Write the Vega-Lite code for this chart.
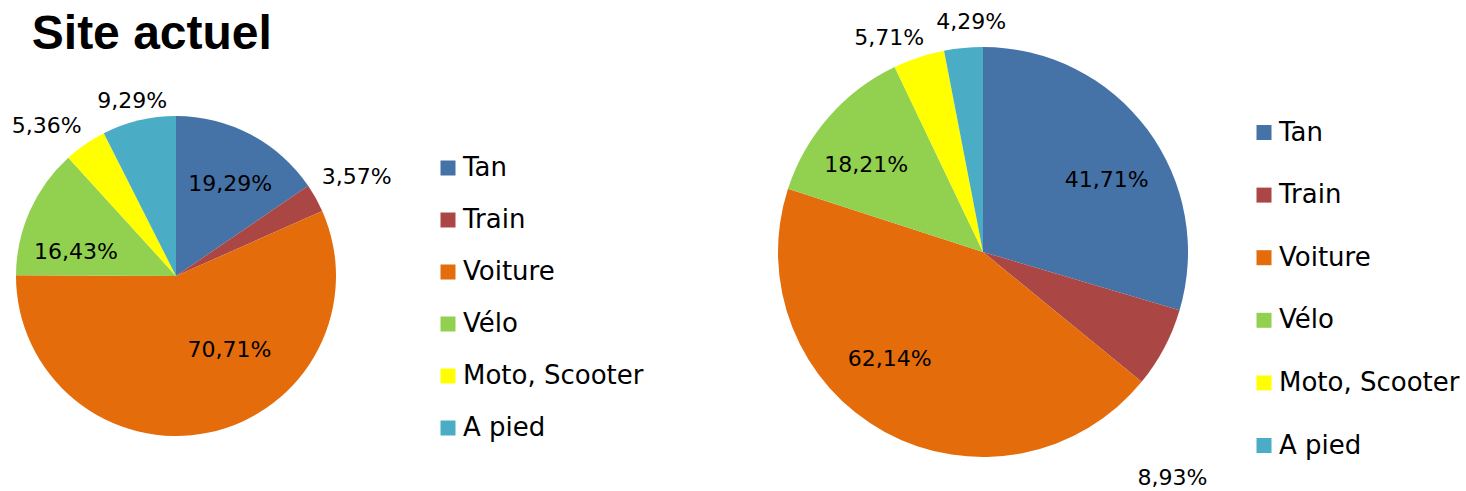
{
  "$schema": "https://vega.github.io/schema/vega-lite/v6.json",
  "background": "white",
  "padding": {"left": 11, "top": 11, "right": 0, "bottom": 0},
  "title": {"text": "Site actuel", "anchor": "start", "dx": 20, "offset": -48, "fontSize": 48, "font": "Liberation Sans", "fontWeight": "bold", "color": "black"},
  "bounds": "flush",
  "spacing": 442,
  "resolve": {"scale": {"color": "independent"}, "legend": {"color": "independent"}},
  "datasets": {
    "actuel": [
      {"mode": "Tan", "rang": 1, "pct": 19.29, "label": "19,29%"},
      {"mode": "Train", "rang": 2, "pct": 3.57, "label": "3,57%"},
      {"mode": "Voiture", "rang": 3, "pct": 70.71, "label": "70,71%"},
      {"mode": "Vélo", "rang": 4, "pct": 16.43, "label": "16,43%"},
      {"mode": "Moto, Scooter", "rang": 5, "pct": 5.36, "label": "5,36%"},
      {"mode": "A pied", "rang": 6, "pct": 9.29, "label": "9,29%"}
    ],
    "futur": [
      {"mode": "Tan", "rang": 1, "pct": 41.71, "label": "41,71%"},
      {"mode": "Train", "rang": 2, "pct": 8.93, "label": "8,93%"},
      {"mode": "Voiture", "rang": 3, "pct": 62.14, "label": "62,14%"},
      {"mode": "Vélo", "rang": 4, "pct": 18.21, "label": "18,21%"},
      {"mode": "Moto, Scooter", "rang": 5, "pct": 5.71, "label": "5,71%"},
      {"mode": "A pied", "rang": 6, "pct": 4.29, "label": "4,29%"}
    ]
  },
  "hconcat": [
    {
      "width": 320,
      "height": 436,
      "data": {"name": "actuel"},
      "encoding": {
        "theta": {"field": "pct", "type": "quantitative", "stack": true},
        "order": {"field": "rang", "type": "quantitative"}
      },
      "layer": [
        {
          "mark": {"type": "arc", "outerRadius": 160},
          "encoding": {
            "color": {
              "field": "mode", "type": "nominal",
              "scale": {"domain": ["Tan", "Train", "Voiture", "Vélo", "Moto, Scooter", "A pied"], "range": ["#4572A7", "#AA4643", "#E46C0A", "#92D050", "#FFFF00", "#4BACC6"]},
              "legend": {"title": null, "orient": "none", "legendX": 419, "legendY": 97, "symbolType": "square", "symbolSize": 225, "symbolStrokeWidth": 0, "labelFont": "DejaVu Sans", "labelFontSize": 26, "labelColor": "black", "labelOffset": 2, "rowPadding": 26, "labelLimit": 400}
            }
          }
        },
        {
          "mark": {"type": "text", "thetaOffset": 0.046, "font": "DejaVu Sans", "fontSize": 22, "color": "black"},
          "encoding": {
            "detail": {"field": "mode", "type": "nominal"},
            "radius": {"field": "pct", "type": "quantitative", "scale": {"domain": [19.28, 19.29, 19.3], "range": [0, 107, 0], "clamp": true, "zero": false}},
            "text": {"condition": {"test": "datum.rang === 1", "field": "label"}, "value": ""}
          }
        },
        {
          "mark": {"type": "text", "thetaOffset": 0.008, "font": "DejaVu Sans", "fontSize": 22, "color": "black"},
          "encoding": {
            "detail": {"field": "mode", "type": "nominal"},
            "radius": {"field": "pct", "type": "quantitative", "scale": {"domain": [3.56, 3.57, 3.58], "range": [0, 206, 0], "clamp": true, "zero": false}},
            "text": {"condition": {"test": "datum.rang === 2", "field": "label"}, "value": ""}
          }
        },
        {
          "mark": {"type": "text", "thetaOffset": -0.42, "font": "DejaVu Sans", "fontSize": 22, "color": "black"},
          "encoding": {
            "detail": {"field": "mode", "type": "nominal"},
            "radius": {"field": "pct", "type": "quantitative", "scale": {"domain": [70.7, 70.71, 70.72], "range": [0, 91, 0], "clamp": true, "zero": false}},
            "text": {"condition": {"test": "datum.rang === 3", "field": "label"}, "value": ""}
          }
        },
        {
          "mark": {"type": "text", "thetaOffset": -0.18, "font": "DejaVu Sans", "fontSize": 22, "color": "black"},
          "encoding": {
            "detail": {"field": "mode", "type": "nominal"},
            "radius": {"field": "pct", "type": "quantitative", "scale": {"domain": [16.42, 16.43, 16.44], "range": [0, 103, 0], "clamp": true, "zero": false}},
            "text": {"condition": {"test": "datum.rang === 4", "field": "label"}, "value": ""}
          }
        },
        {
          "mark": {"type": "text", "thetaOffset": -0.108, "font": "DejaVu Sans", "fontSize": 22, "color": "black"},
          "encoding": {
            "detail": {"field": "mode", "type": "nominal"},
            "radius": {"field": "pct", "type": "quantitative", "scale": {"domain": [5.35, 5.36, 5.37], "range": [0, 198, 0], "clamp": true, "zero": false}},
            "text": {"condition": {"test": "datum.rang === 5", "field": "label"}, "value": ""}
          }
        },
        {
          "mark": {"type": "text", "thetaOffset": -0.012, "font": "DejaVu Sans", "fontSize": 22, "color": "black"},
          "encoding": {
            "detail": {"field": "mode", "type": "nominal"},
            "radius": {"field": "pct", "type": "quantitative", "scale": {"domain": [9.28, 9.29, 9.3], "range": [0, 180, 0], "clamp": true, "zero": false}},
            "text": {"condition": {"test": "datum.rang === 6", "field": "label"}, "value": ""}
          }
        }
      ],
      "resolve": {"scale": {"radius": "independent"}}
    },
    {
      "width": 410,
      "height": 388,
      "data": {"name": "futur"},
      "encoding": {
        "theta": {"field": "pct", "type": "quantitative", "stack": true},
        "order": {"field": "rang", "type": "quantitative"}
      },
      "layer": [
        {
          "mark": {"type": "arc", "outerRadius": 205},
          "encoding": {
            "color": {
              "field": "mode", "type": "nominal",
              "scale": {"domain": ["Tan", "Train", "Voiture", "Vélo", "Moto, Scooter", "A pied"], "range": ["#4572A7", "#AA4643", "#E46C0A", "#92D050", "#FFFF00", "#4BACC6"]},
              "legend": {"title": null, "orient": "none", "legendX": 473, "legendY": 61.5, "symbolType": "square", "symbolSize": 225, "symbolStrokeWidth": 0, "labelFont": "DejaVu Sans", "labelFontSize": 26, "labelColor": "black", "labelOffset": 2, "rowPadding": 36.6, "labelLimit": 400}
            }
          }
        },
        {
          "mark": {"type": "text", "thetaOffset": 0.115, "font": "DejaVu Sans", "fontSize": 22, "color": "black"},
          "encoding": {
            "detail": {"field": "mode", "type": "nominal"},
            "radius": {"field": "pct", "type": "quantitative", "scale": {"domain": [41.7, 41.71, 41.72], "range": [0, 143, 0], "clamp": true, "zero": false}},
            "text": {"condition": {"test": "datum.rang === 1", "field": "label"}, "value": ""}
          }
        },
        {
          "mark": {"type": "text", "thetaOffset": 0.386, "font": "DejaVu Sans", "fontSize": 22, "color": "black"},
          "encoding": {
            "detail": {"field": "mode", "type": "nominal"},
            "radius": {"field": "pct", "type": "quantitative", "scale": {"domain": [8.92, 8.93, 8.94], "range": [0, 295, 0], "clamp": true, "zero": false}},
            "text": {"condition": {"test": "datum.rang === 2", "field": "label"}, "value": ""}
          }
        },
        {
          "mark": {"type": "text", "thetaOffset": 0.218, "font": "DejaVu Sans", "fontSize": 22, "color": "black"},
          "encoding": {
            "detail": {"field": "mode", "type": "nominal"},
            "radius": {"field": "pct", "type": "quantitative", "scale": {"domain": [62.13, 62.14, 62.15], "range": [0, 142, 0], "clamp": true, "zero": false}},
            "text": {"condition": {"test": "datum.rang === 3", "field": "label"}, "value": ""}
          }
        },
        {
          "mark": {"type": "text", "thetaOffset": -0.077, "font": "DejaVu Sans", "fontSize": 22, "color": "black"},
          "encoding": {
            "detail": {"field": "mode", "type": "nominal"},
            "radius": {"field": "pct", "type": "quantitative", "scale": {"domain": [18.2, 18.21, 18.22], "range": [0, 146, 0], "clamp": true, "zero": false}},
            "text": {"condition": {"test": "datum.rang === 4", "field": "label"}, "value": ""}
          }
        },
        {
          "mark": {"type": "text", "thetaOffset": -0.094, "font": "DejaVu Sans", "fontSize": 22, "color": "black"},
          "encoding": {
            "detail": {"field": "mode", "type": "nominal"},
            "radius": {"field": "pct", "type": "quantitative", "scale": {"domain": [5.7, 5.71, 5.72], "range": [0, 234, 0], "clamp": true, "zero": false}},
            "text": {"condition": {"test": "datum.rang === 5", "field": "label"}, "value": ""}
          }
        },
        {
          "mark": {"type": "text", "thetaOffset": 0.044, "font": "DejaVu Sans", "fontSize": 22, "color": "black"},
          "encoding": {
            "detail": {"field": "mode", "type": "nominal"},
            "radius": {"field": "pct", "type": "quantitative", "scale": {"domain": [4.28, 4.29, 4.3], "range": [0, 230, 0], "clamp": true, "zero": false}},
            "text": {"condition": {"test": "datum.rang === 6", "field": "label"}, "value": ""}
          }
        }
      ],
      "resolve": {"scale": {"radius": "independent"}}
    }
  ],
  "config": {"view": {"stroke": null}}
}
